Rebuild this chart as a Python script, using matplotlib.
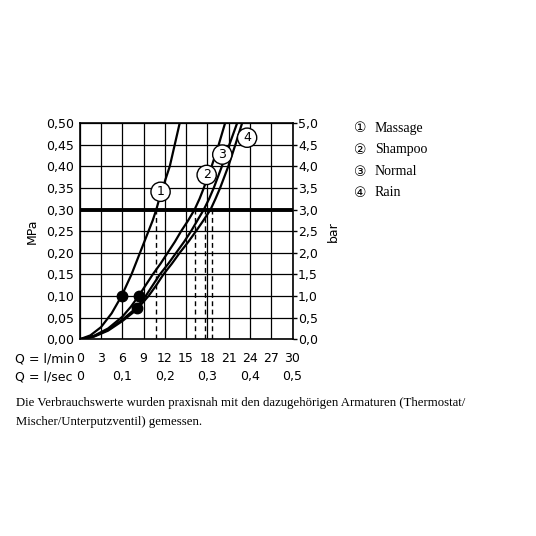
import numpy as np
import matplotlib
matplotlib.use('Agg')
import matplotlib.pyplot as plt

W = 536  # figure size in px

# flow in l/min vs. pressure in MPa
q_massage = [0, 1.5, 3, 4.5, 5.9, 6.6, 7.3, 7.9, 8.5, 9.1, 9.7, 10.3, 10.8, 11.4, 12.0, 12.7, 13.4, 14.1]
p_massage = [0, 0.009, 0.028, 0.060, 0.10, 0.125, 0.15, 0.175, 0.20, 0.225, 0.25, 0.275, 0.30, 0.335, 0.365, 0.40, 0.45, 0.50]

q_shampoo = [0, 2, 4, 6, 7.2, 8.3, 9.3, 10.3, 11.4, 12.4, 13.4, 14.3, 15.3, 16.2, 16.9, 17.5, 18.6, 19.6, 20.5]
p_shampoo = [0, 0.008, 0.025, 0.052, 0.075, 0.10, 0.125, 0.15, 0.175, 0.20, 0.225, 0.25, 0.275, 0.30, 0.325, 0.35, 0.40, 0.45, 0.50]

q_normal = [0, 2, 4, 6, 8.0, 9.3, 10.3, 11.3, 12.5, 13.6, 14.7, 15.7, 16.6, 17.5, 18.25, 18.9, 20.05, 21.1, 22.2]
p_normal = [0, 0.007, 0.022, 0.045, 0.073, 0.10, 0.125, 0.15, 0.175, 0.20, 0.225, 0.25, 0.275, 0.30, 0.325, 0.35, 0.40, 0.45, 0.50]

q_rain = [0, 2, 4, 6, 8.0, 9.7, 10.8, 11.8, 13.0, 14.1, 15.3, 16.4, 17.45, 18.45, 19.15, 19.8, 20.95, 21.95, 22.9]
p_rain = [0, 0.006, 0.020, 0.042, 0.068, 0.10, 0.125, 0.15, 0.175, 0.20, 0.225, 0.25, 0.275, 0.30, 0.325, 0.35, 0.40, 0.45, 0.50]

# flow at 0,3 MPa (dashed drop lines)
q_at_3bar = [10.8, 16.2, 17.6, 18.6]
p_ref = 0.30

# black dots
dot_q = [5.9, 8.3, 8.05]
dot_p = [0.10, 0.10, 0.073]

# circled numbers on the curves
lab_num = ['1', '2', '3', '4']
lab_q = [11.4, 17.9, 20.1, 23.6]
lab_p = [0.341, 0.38, 0.427, 0.466]

names = ['Massage', 'Shampoo', 'Normal', 'Rain']
circ = ['\u2460', '\u2461', '\u2462', '\u2463']

x_ticks = list(range(0, 31, 3))
x_lmin = [str(v) for v in x_ticks]
sec_pos = [0, 6, 12, 18, 24, 30]
sec_lab = ['0', '0,1', '0,2', '0,3', '0,4', '0,5']
y_ticks = [i * 0.05 for i in range(11)]
y_lab = ['0,00', '0,05', '0,10', '0,15', '0,20', '0,25', '0,30', '0,35', '0,40', '0,45', '0,50']
bar_lab = ['0,0', '0,5', '1,0', '1,5', '2,0', '2,5', '3,0', '3,5', '4,0', '4,5', '5,0']

caption = ['Die Verbrauchswerte wurden praxisnah mit den dazugehörigen Armaturen (Thermostat/',
           'Mischer/Unterputzventil) gemessen.']

sans = 'DejaVu Sans'
serif = 'Liberation Serif'

fig = plt.figure(figsize=(W / 100, W / 100), dpi=100)
x0, x1, y0, y1 = 79.7, 292.5, 123, 339.3
ax = fig.add_axes([x0 / W, 1 - y1 / W, (x1 - x0) / W, (y1 - y0) / W])
h = y1 - y0

ax.set_xlim(0, 30)
ax.set_ylim(0, 0.5)
ax.set_xticks(x_ticks)
ax.set_xticklabels([])
ax.set_yticks(y_ticks)
ax.set_yticklabels(y_lab, fontsize=9, family=sans)
ax.tick_params(axis='both', length=0, pad=4)
ax.grid(True, color='black', lw=0.9)
ax.set_axisbelow(True)
for s in ax.spines.values():
    s.set_linewidth(1.2)

# pressure reference line
ax.axhline(p_ref, color='black', lw=2.8, zorder=3)

for q in q_at_3bar:
    ax.plot([q, q], [0, p_ref], color='black', lw=1.0, ls=(0, (3.5, 2.5)), zorder=2)

for q, p in [(q_massage, p_massage), (q_shampoo, p_shampoo), (q_normal, p_normal), (q_rain, p_rain)]:
    ax.plot(q, p, color='black', lw=1.6, zorder=4, solid_joinstyle='round')

ax.plot(dot_q, dot_p, 'o', color='black', ms=7.5, zorder=5)

for n, q, p in zip(lab_num, lab_q, lab_p):
    ax.text(q, p, n, ha='center', va='center', fontsize=9, family=sans, zorder=6,
            bbox=dict(boxstyle='circle,pad=0.25', fc='white', ec='black', lw=1.0))

# two rows of flow labels under the grid
xt = ax.get_xaxis_transform()
for q, s in zip(x_ticks, x_lmin):
    ax.text(q, -(358.5 - y1) / h, s, ha='center', va='center', fontsize=9, family=sans,
            transform=xt, clip_on=False)
for q, s in zip(sec_pos, sec_lab):
    ax.text(q, -(376.5 - y1) / h, s, ha='center', va='center', fontsize=9, family=sans,
            transform=xt, clip_on=False)
fig.text(15 / W, 1 - 358.5 / W, 'Q = l/min', ha='left', va='center', fontsize=9, family=sans)
fig.text(15 / W, 1 - 376.5 / W, 'Q = l/sec', ha='left', va='center', fontsize=9, family=sans)

ax.set_ylabel('MPa', fontsize=9, family=sans, labelpad=5)

# bar axis on the right
ax2 = ax.twinx()
ax2.set_ylim(0, 5)
ax2.set_yticks(np.arange(11) * 0.5)
ax2.set_yticklabels(bar_lab, fontsize=9, family=sans)
ax2.tick_params(axis='y', length=3, width=1, pad=1, direction='out')
ax2.set_ylabel('bar', fontsize=9, family=sans, labelpad=6)
for s in ax2.spines.values():
    s.set_visible(False)

# legend
for i, (c, nm) in enumerate(zip(circ, names)):
    yy = 1 - (128.5 + i * 21.5) / W
    fig.text(360 / W, yy, c, ha='center', va='center', fontsize=10, family=sans)
    fig.text(375 / W, yy, nm, ha='left', va='center', fontsize=10, family=serif)

for i, line in enumerate(caption):
    fig.text(16 / W, 1 - (403 + i * 19) / W, line, ha='left', va='center', fontsize=9.2, family=serif)

fig.savefig('out.png', dpi=100)
